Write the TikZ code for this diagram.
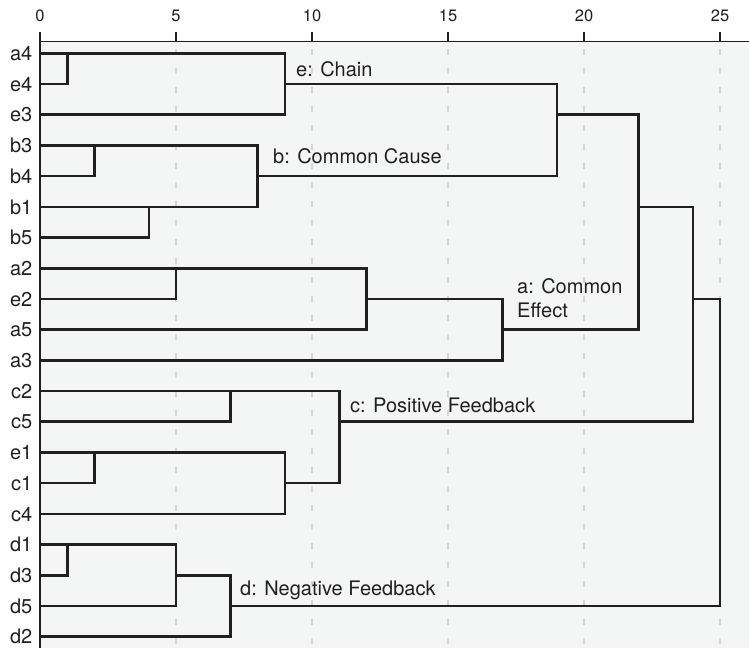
\documentclass[tikz,border=0pt]{standalone}
\usepackage{fontspec}
\setmainfont{TeX Gyre Heros}
\definecolor{bgc}{RGB}{244,245,245}
\definecolor{ink}{RGB}{35,31,32}
\definecolor{gridc}{RGB}{212,212,212}
\begin{document}
\begin{tikzpicture}[x=1pt,y=-1pt,
  dend/.style={draw=ink,line width=2.6pt,line join=miter},
  rowlab/.style={anchor=base east,inner sep=0pt,font=\fontsize{20}{24}\selectfont,text=ink},
  ticklab/.style={anchor=base,inner sep=0pt,font=\fontsize{16.5}{18}\selectfont,text=ink},
  grplab/.style={anchor=base west,inner sep=0pt,font=\fontsize{20}{24}\selectfont,text=ink,align=left},
  gridline/.style={draw=gridc,line width=1.4pt,dash pattern=on 6pt off 13pt},
  axisline/.style={draw=ink,line width=1.3pt},
  tickmark/.style={draw=ink,line width=2.2pt}]
\useasboundingbox (0,0) rectangle (749,648);
\fill[bgc] (40,41.7) rectangle (749,648);
\foreach \h in {5,10,15,20,25} {
  \draw[gridline] ({40+27.2*\h},49) -- ({40+27.2*\h},648);
  \draw[tickmark] ({40+27.2*\h},32) -- ({40+27.2*\h},41.7);
}
\foreach \h in {0,5,10,15,20,25} {
  \node[ticklab] (t\h) at ({40+27.2*\h},21.7) {\h};
}
\draw[axisline] (40,41.7) -- (749,41.7);
\draw[tickmark] (40,32) -- (40,648);
% leaves
\foreach \n/\y in {a4/53.3,e4/84.0,e3/114.7,b3/145.4,b4/176.1,b1/206.8,b5/237.5,
  a2/268.2,e2/298.9,a5/329.6,a3/360.3,c2/391.0,c5/421.7,e1/452.4,c1/483.1,
  c4/513.8,d1/544.5,d3/575.2,d5/605.9,d2/636.6} {
  \coordinate (\n) at (40,\y);
  \node[rowlab] (l\n) at (32.5,{\y+7.2}) {\n};
}
% internal nodes (x = 40 + 27.2 h)
\coordinate (n1) at (67.2,53.3);
\coordinate (n2) at (284.8,84.0);
\coordinate (n3) at (94.4,145.4);
\coordinate (n4) at (148.8,206.8);
\coordinate (n5) at (257.6,176.1);
\coordinate (n6) at (556.8,114.7);
\coordinate (n7) at (176,268.2);
\coordinate (n8) at (366.4,298.9);
\coordinate (n9) at (502.4,329.6);
\coordinate (n10) at (638.4,206.8);
\coordinate (n11) at (230.4,391.0);
\coordinate (n12) at (94.4,452.4);
\coordinate (n13) at (284.8,483.1);
\coordinate (n14) at (339.2,421.7);
\coordinate (n15) at (692.8,298.9);
\coordinate (n16) at (67.2,544.5);
\coordinate (n17) at (176,575.2);
\coordinate (n18) at (230.4,605.9);
\coordinate (n19) at (720,452.4);
\draw[dend] (a4) -| (n1) |- (e4);
\draw[dend] (n1) -| (n2) |- (e3);
\draw[dend] (b3) -| (n3) |- (b4);
\draw[dend] (b1) -| (n4) |- (b5);
\draw[dend] (n3) -| (n5) |- (n4);
\draw[dend] (n2) -| (n6) |- (n5);
\draw[dend] (a2) -| (n7) |- (e2);
\draw[dend] (n7) -| (n8) |- (a5);
\draw[dend] (n8) -| (n9) |- (a3);
\draw[dend] (n6) -| (n10) |- (n9);
\draw[dend] (c2) -| (n11) |- (c5);
\draw[dend] (e1) -| (n12) |- (c1);
\draw[dend] (n12) -| (n13) |- (c4);
\draw[dend] (n11) -| (n14) |- (n13);
\draw[dend] (n10) -| (n15) |- (n14);
\draw[dend] (d1) -| (n16) |- (d3);
\draw[dend] (n16) -| (n17) |- (d5);
\draw[dend] (n17) -| (n18) |- (d2);
\draw[dend] (n15) -| (n19) |- (n18);
% group labels
\node[grplab] (ge) at (296,76) {e: Chain};
\node[grplab] (gb) at (273,163) {b: Common Cause};
\node[grplab] (ga) at (517,317) {a: Common\\Effect};
\node[grplab] (gc) at (350,412) {c: Positive Feedback};
\node[grplab] (gd) at (240,595) {d: Negative Feedback};
\end{tikzpicture}
\end{document}
